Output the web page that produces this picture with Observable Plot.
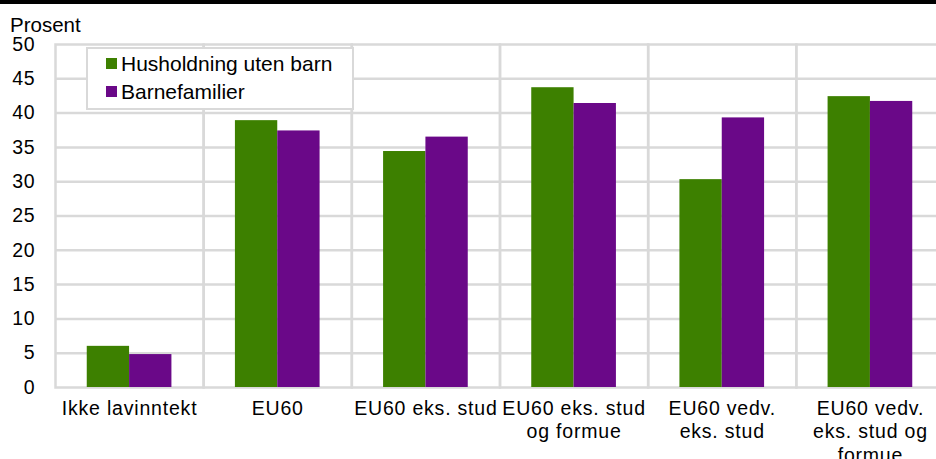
<!DOCTYPE html>
<html>
<head>
<meta charset="utf-8">
<script src="https://cdn.jsdelivr.net/npm/d3@7"></script>
<script src="https://cdn.jsdelivr.net/npm/@observablehq/plot@0.6"></script>
<style>
  html, body { margin: 0; padding: 0; background: #fff; }
  #wrap { position: relative; width: 936px; height: 459px; overflow: hidden; font-family: "Liberation Sans", Arial, sans-serif; color: #000; }
  #topbar { position: absolute; left: 0; top: 0; width: 936px; height: 4px; background: #000; z-index: 3; }
  #ylabel { position: absolute; left: 10px; top: 15px; font-size: 20.5px; line-height: 20px; z-index: 3; }
  #legend { position: absolute; left: 86px; top: 47px; width: 264px; height: 58px; border: 2px solid #d9d9d9; background: #fff; z-index: 3; padding-top: 0.5px; }
  .row { display: flex; align-items: center; height: 28px; font-size: 21px; }
  .sw { width: 11px; height: 11px; margin-left: 18px; margin-right: 4px; }
  #plot svg text { letter-spacing: 0.8px; }
</style>
</head>
<body>
<div id="wrap">
  <div id="topbar"></div>
  <div id="ylabel">Prosent</div>
  <div id="legend"></div>
  <div id="plot"></div>
</div>
<script>
const categories = ["Ikke lavinntekt", "EU60", "EU60 eks. stud", "EU60 eks. stud og formue", "EU60 vedv. eks. stud", "EU60 vedv. eks. stud og formue"];
const tickLabels = ["Ikke lavinntekt", "EU60", "EU60 eks. stud", "EU60 eks. stud\nog formue", "EU60 vedv.\neks. stud", "EU60 vedv.\neks. stud og\nformue"];
const series = ["Husholdning uten barn", "Barnefamilier"];
const utenBarn = [6.0, 38.9, 34.4, 43.7, 30.3, 42.4];
const barnefamilier = [4.8, 37.4, 36.5, 41.4, 39.3, 41.7];
const colors = ["#3d8000", "#6a0888"];
const yTicks = [0, 5, 10, 15, 20, 25, 30, 35, 40, 45, 50];

const data = categories.flatMap((c, i) => [
  {category: c, series: series[0], value: utenBarn[i]},
  {category: c, series: series[1], value: barnefamilier[i]}
]);
const fmt = c => tickLabels[categories.indexOf(c)];

const chart = Plot.plot({
  width: 936,
  height: 459,
  marginTop: 44,
  marginBottom: 72,
  marginLeft: 55,
  marginRight: -8,
  style: {fontFamily: "'Liberation Sans', Arial, sans-serif", fontSize: "19.5px", color: "#000", background: "transparent", overflow: "hidden"},
  fx: {domain: categories, padding: 0, round: false, label: null},
  x: {domain: series, paddingInner: 0, paddingOuter: 0.75, round: false, axis: null},
  y: {domain: [0, 50], label: null},
  color: {domain: series, range: colors},
  marks: [
    Plot.ruleY(yTicks.filter(t => t > 0 && t < 50), {stroke: "#d9d9d9", strokeWidth: 2.5}),
    Plot.frame({stroke: "#d9d9d9", strokeWidth: 2.5}),
    Plot.barY(data, {fx: "category", x: "series", y: "value", fill: "series"}),
    Plot.axisY({ticks: yTicks, tickSize: 0, tickPadding: 20, label: null, fontSize: 19.5}),
    Plot.axisFx({anchor: "bottom", tickSize: 0, tickPadding: 11, label: null, lineHeight: 1.195, tickFormat: fmt, fontSize: 19.5})
  ]
});
document.getElementById("plot").appendChild(chart);

const colorScale = chart.scale("color");
const legend = document.getElementById("legend");
series.forEach(s => {
  const row = document.createElement("div");
  row.className = "row";
  const sw = document.createElement("div");
  sw.className = "sw";
  sw.style.background = colorScale.apply(s);
  const label = document.createElement("span");
  label.textContent = s;
  row.appendChild(sw);
  row.appendChild(label);
  legend.appendChild(row);
});
</script>
</body>
</html>
